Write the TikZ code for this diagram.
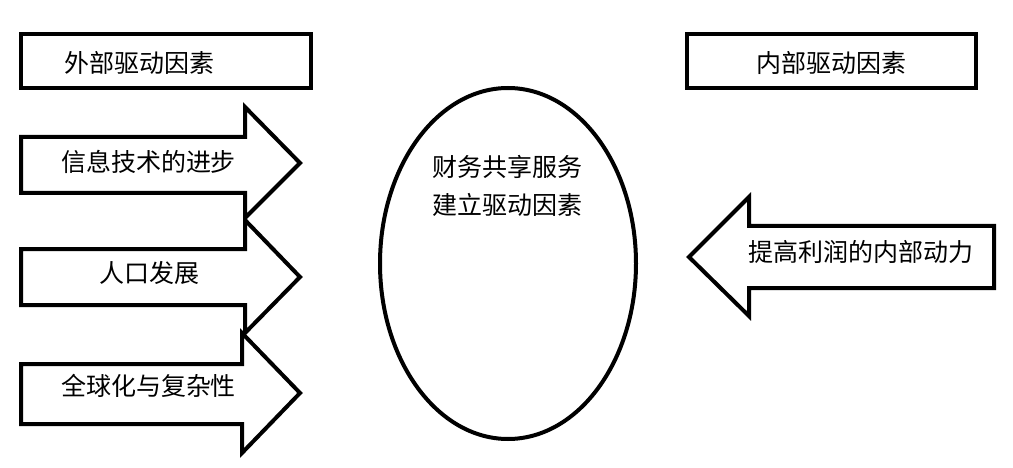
\documentclass[tikz,border=0pt]{standalone}
\usepackage{fontspec}
\setmainfont{Noto Sans CJK SC}
\usetikzlibrary{shapes.geometric}
\tikzset{
  frame/.style={draw, line width=4.5pt, minimum width=290pt, minimum height=54pt, inner sep=0pt},
  arrowshape/.style={draw, line width=4pt, line join=miter, miter limit=10},
  lbl/.style={font=\fontsize{25}{38}\selectfont, inner sep=0pt},
  oval/.style={draw, ellipse, line width=4pt, inner sep=0pt},
}
\begin{document}
\begin{tikzpicture}[x=1pt,y=-1pt]
\useasboundingbox (0,0) rectangle (1013,468);
% top boxes
\node[frame] (ext) at (166,61) {};
\node[lbl] (extlbl) at (139,63) {外部驱动因素};
\node[frame, minimum width=289pt] (int) at (831.5,61) {};
\node[lbl] (intlbl) at (831,63) {内部驱动因素};
% left arrows
\draw[arrowshape] (21,137) -- (245,137) -- (245,107) -- (300,163) -- (245,218) -- (245,193) -- (21,193) -- cycle;
\draw[arrowshape] (21,249) -- (245,249) -- (245,220) -- (300,277) -- (245,333) -- (245,305) -- (21,305) -- cycle;
\draw[arrowshape] (21,364) -- (242,364) -- (242,333) -- (300,393) -- (242,453) -- (242,424) -- (21,424) -- cycle;
\node[lbl] (a1) at (148.5,162) {信息技术的进步};
\node[lbl] (a2) at (149.5,273) {人口发展};
\node[lbl] (a3) at (148.5,386) {全球化与复杂性};
% right arrow
\draw[arrowshape] (994,226) -- (749,226) -- (749,197) -- (689,257) -- (749,316) -- (749,288) -- (994,288) -- cycle;
\node[lbl] (b1) at (860.5,252) {提高利润的内部动力};
% centre ellipse
\node[oval, minimum width=256pt, minimum height=351pt] (core) at (508,263.5) {};
\node[lbl, align=center] (corelbl) at (507,186) {财务共享服务\\建立驱动因素};
\end{tikzpicture}
\end{document}
